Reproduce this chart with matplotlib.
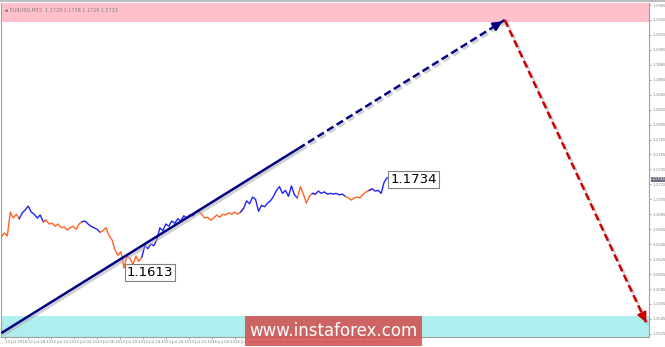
import numpy as np
import matplotlib
matplotlib.use("Agg")
import matplotlib.pyplot as plt
import matplotlib.patheffects as pe
from matplotlib.patches import Rectangle

# price path (bar position, close price)
bar_x = list(range(0, 390, 3))
price = [1.1655, 1.1660, 1.1656, 1.1688, 1.1680, 1.1685, 1.1679, 1.1687, 1.1691, 1.1696,
         1.1688, 1.1685, 1.1680, 1.1684, 1.1675, 1.1677, 1.1672, 1.1673, 1.1669, 1.1672,
         1.1667, 1.1668, 1.1664, 1.1667, 1.1669, 1.1665, 1.1672, 1.1675, 1.1676, 1.1672,
         1.1669, 1.1667, 1.1665, 1.1661, 1.1663, 1.1667, 1.1656, 1.1651, 1.1637, 1.1630,
         1.1635, 1.1613, 1.1629, 1.1626, 1.1618, 1.1629, 1.1622, 1.1628, 1.1643, 1.1639,
         1.1645, 1.1643, 1.1651, 1.1667, 1.1663, 1.1672, 1.1669, 1.1676, 1.1673, 1.1679,
         1.1676, 1.1683, 1.1680, 1.1684, 1.1683, 1.1687, 1.1689, 1.1685, 1.1680, 1.1681,
         1.1677, 1.1680, 1.1684, 1.1681, 1.1685, 1.1684, 1.1687, 1.1685, 1.1688, 1.1685,
         1.1688, 1.1693, 1.1703, 1.1699, 1.1708, 1.1705, 1.1689, 1.1697, 1.1695, 1.1700,
         1.1703, 1.1709, 1.1717, 1.1722, 1.1713, 1.1717, 1.1709, 1.1723, 1.1711, 1.1707,
         1.1722, 1.1712, 1.1700, 1.1709, 1.1713, 1.1712, 1.1716, 1.1713, 1.1715, 1.1712,
         1.1713, 1.1712, 1.1713, 1.1711, 1.1712, 1.1709, 1.1707, 1.1704, 1.1707, 1.1708,
         1.1707, 1.1712, 1.1715, 1.1717, 1.1719, 1.1716, 1.1717, 1.1713, 1.1728, 1.1734]

# colouring of the zigzag legs
seg_edges = [0, 20, 45, 82, 100, 143, 200, 243, 298, 315, 347, 372, 388]
seg_colors = ["#ff6420", "#2020ff"] * 6

# wave forecast: start, solid end, top target, bottom target
wave_x = [0, 298, 505, 648]
wave_y = [1.1526, 1.1773, 1.1945, 1.1537]

low_val, last_val = 1.1613, 1.1734
low_x, last_x = 123, 387

y_ticks = [round(1.1525 + 0.002 * k, 4) for k in range(23)]
time_labels = ["12 Jul 2018", "12 Jul 18:15", "12 Jul 22:15", "13 Jul 02:15", "13 Jul 06:15",
               "13 Jul 10:15", "13 Jul 14:15", "13 Jul 18:15", "13 Jul 22:15", "16 Jul 02:15",
               "16 Jul 06:15", "16 Jul 10:15", "16 Jul 14:15", "16 Jul 18:15", "16 Jul 22:15",
               "17 Jul 02:15", "17 Jul 06:15"]

ylo, yhi = 1.15208, 1.19677

fig = plt.figure(figsize=(6.65, 3.47), dpi=100)
ax = fig.add_axes([0.002, 10/347, 648/665, 334/347])
ax.set_xlim(0, 650)
ax.set_ylim(ylo, yhi)

# target zones
ax.axhspan(1.19423, yhi, color="#ffc0cb", zorder=0, lw=0)
ax.axhspan(ylo, 1.15489, color="#afeeee", zorder=0, lw=0)

# price line coloured per leg
bx = np.array(bar_x)
pr = np.array(price)
for i in range(len(seg_edges) - 1):
    a, b = seg_edges[i], seg_edges[i + 1]
    m = (bx >= a - 3) & (bx <= b)
    ax.plot(bx[m], pr[m], color=seg_colors[i], lw=1.0, zorder=3)

shadow = [pe.SimpleLineShadow(offset=(1.5, -1.5), shadow_color="#b0b0b0", alpha=0.6), pe.Normal()]
ax.plot(wave_x[:2], wave_y[:2], color="#000080", lw=1.8, zorder=4, path_effects=shadow,
        solid_capstyle="butt")
ax.plot(wave_x[1:3], wave_y[1:3], color="#000080", lw=1.8, ls=(0, (3, 1.5)), zorder=4,
        path_effects=shadow)
ax.plot(wave_x[2:4], wave_y[2:4], color="#cc0000", lw=1.8, ls=(0, (3, 1.5)), zorder=4,
        path_effects=shadow)

# arrow heads
def head(x0, y0, x1, y1, col):
    ax.annotate("", xy=(x1, y1), xytext=(x1 - (x1 - x0) * 0.04, y1 - (y1 - y0) * 0.04),
                arrowprops=dict(arrowstyle="-|>", color=col, mutation_scale=14, lw=1.5),
                zorder=5)

head(wave_x[1], wave_y[1], wave_x[2], wave_y[2], "#000080")
head(wave_x[2], wave_y[2], wave_x[3], wave_y[3], "#cc0000")

box = dict(boxstyle="square,pad=0.15", fc="white", ec="#808080", lw=0.8)
ax.text(low_x + 3, low_val + 0.0003, f"{low_val:.4f}", fontsize=9.5, va="top", ha="left",
        bbox=box, zorder=6)
ax.text(last_x + 3, last_val - 0.0002, f"{last_val:.4f}", fontsize=9.5, va="center", ha="left",
        bbox=box, zorder=6)

# axes styling
ax.yaxis.tick_right()
ax.set_yticks(y_ticks)
ax.set_yticklabels([f"{v:.4f}" for v in y_ticks], fontsize=2.8, color="#808080")
ax.tick_params(axis="y", length=1.5, width=0.5, color="#808080", pad=0.8)
ax.set_xticks([4 + 23 * k for k in range(len(time_labels))])
ax.set_xticklabels(time_labels, fontsize=2.8, color="#808080", ha="left")
ax.tick_params(axis="x", length=1.5, width=0.5, color="#808080", pad=1)
for s in ax.spines.values():
    s.set_color("#a0a0a0")
    s.set_linewidth(0.8)
ax.spines["top"].set_visible(False)

ax.text(0.005, 0.985, "\u25aa EURUSD,M15  1.1729 1.1738 1.1729 1.1733", transform=ax.transAxes,
        fontsize=3.5, color="#808080", va="top", ha="left", zorder=6)

# current price marker on the scale
ax.text(1.003, last_val - 0.0002, "1.1733", transform=ax.get_yaxis_transform(), fontsize=2.8,
        color="white", va="center", ha="left",
        bbox=dict(boxstyle="square,pad=0.15", fc="#707080", ec="none"), zorder=6, clip_on=False)

# watermark
fig.patches.append(Rectangle((245/665, 1/347), 177/665, 30/347, transform=fig.transFigure,
                             fc="#d24c4c", alpha=0.85, ec="none", zorder=10))
fig.text(333/665, 16/347, "www.instaforex.com", color="white", fontsize=12,
         ha="center", va="center", zorder=11)

fig.add_artist(plt.Line2D([0, 1], [0.996, 0.996], color="#b0b0b0", lw=1.2,
                          transform=fig.transFigure))

fig.savefig("out.png", dpi=100)
